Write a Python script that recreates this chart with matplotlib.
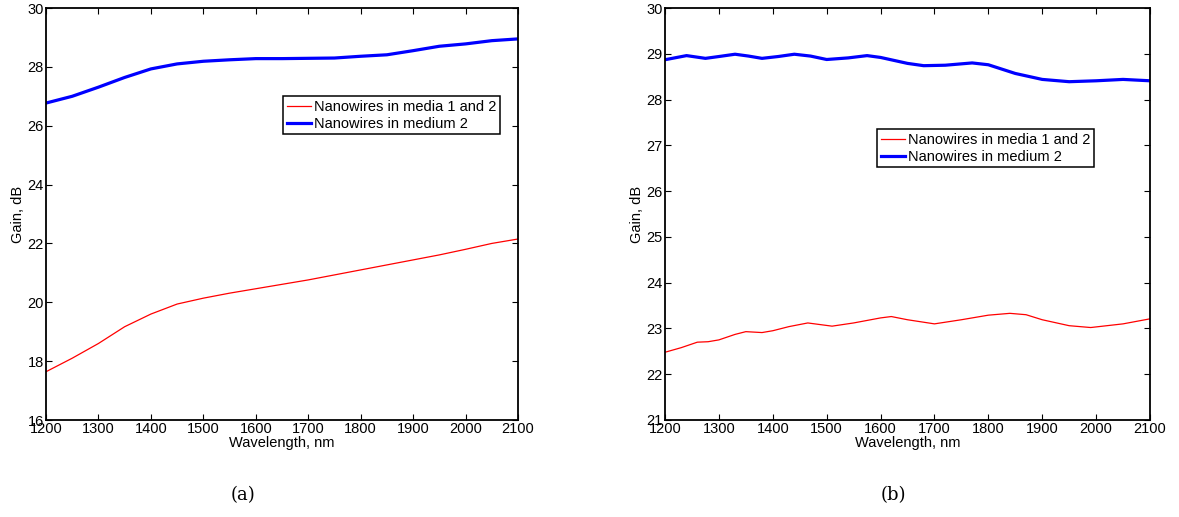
import matplotlib
matplotlib.use("Agg")
import matplotlib.pyplot as plt

# panel (a)
wl_a = [1200, 1250, 1300, 1350, 1400, 1450, 1500, 1550, 1600, 1650, 1700,
        1750, 1800, 1850, 1900, 1950, 2000, 2050, 2100]
both_a = [17.64, 18.10, 18.60, 19.17, 19.60, 19.94, 20.14, 20.31, 20.46, 20.61,
          20.76, 20.93, 21.10, 21.27, 21.44, 21.61, 21.80, 22.00, 22.15]
med2_a = [26.77, 27.00, 27.31, 27.64, 27.93, 28.10, 28.19, 28.24, 28.28, 28.28,
          28.29, 28.30, 28.36, 28.41, 28.55, 28.70, 28.78, 28.89, 28.95]

# panel (b)
wl_b_red = [1200, 1230, 1260, 1280, 1300, 1330, 1350, 1380, 1400, 1430, 1465,
            1510, 1550, 1600, 1620, 1650, 1700, 1750, 1800, 1840, 1870, 1900,
            1950, 1990, 2050, 2100]
both_b = [22.48, 22.58, 22.70, 22.71, 22.75, 22.87, 22.93, 22.91, 22.95, 23.04,
          23.12, 23.05, 23.12, 23.23, 23.26, 23.19, 23.10, 23.19, 23.29, 23.33,
          23.30, 23.19, 23.06, 23.02, 23.10, 23.21]
wl_b_blue = [1200, 1240, 1275, 1300, 1330, 1355, 1380, 1410, 1440, 1470, 1500,
             1540, 1575, 1600, 1650, 1680, 1720, 1770, 1800, 1850, 1900, 1950,
             2000, 2050, 2100]
med2_b = [28.87, 28.96, 28.90, 28.94, 28.99, 28.95, 28.90, 28.94, 28.99, 28.95,
          28.875, 28.91, 28.96, 28.92, 28.79, 28.74, 28.75, 28.80, 28.76, 28.57,
          28.44, 28.39, 28.41, 28.44, 28.41]

xticks = [1200, 1300, 1400, 1500, 1600, 1700, 1800, 1900, 2000, 2100]

plt.rcParams["font.family"] = ["Liberation Sans", "DejaVu Sans"]
plt.rcParams["font.size"] = 10.5

fig = plt.figure(figsize=(11.79, 5.17), dpi=100)
ax1 = fig.add_axes([46 / 1179, 97 / 517, 472 / 1179, 412 / 517])
ax2 = fig.add_axes([665 / 1179, 97 / 517, 485 / 1179, 412 / 517])


def style(ax, ylim, yticks):
    ax.set_xlim(1200, 2100)
    ax.set_ylim(*ylim)
    ax.set_xticks(xticks)
    ax.set_yticks(yticks)
    ax.tick_params(direction="in", top=True, right=True, length=4, width=0.8,
                   labelsize=10.5, pad=1.5)
    for s in ax.spines.values():
        s.set_linewidth(1.3)
    ax.set_xlabel("Wavelength, nm", fontsize=10.5, labelpad=0)
    ax.set_ylabel("Gain, dB", fontsize=10.5, labelpad=2)


def add_legend(ax, anchor):
    leg = ax.legend(loc="upper left", bbox_to_anchor=anchor, fancybox=False,
                    edgecolor="black", framealpha=1, fontsize=10.5,
                    handlelength=1.65, handletextpad=0.2, borderpad=0.25,
                    labelspacing=0.2, borderaxespad=0)
    leg.get_frame().set_linewidth(1.1)


ax1.plot(wl_a, both_a, color="red", lw=0.9, label="Nanowires in media 1 and 2")
ax1.plot(wl_a, med2_a, color="blue", lw=2.3, label="Nanowires in medium 2")
style(ax1, (16, 30), range(16, 31, 2))
add_legend(ax1, (0.502, 0.786))

ax2.plot(wl_b_red, both_b, color="red", lw=0.9, label="Nanowires in media 1 and 2")
ax2.plot(wl_b_blue, med2_b, color="blue", lw=2.3, label="Nanowires in medium 2")
style(ax2, (21, 30), range(21, 31))
add_legend(ax2, (0.437, 0.706))

fig.text(243 / 1179, 1 - 495 / 517, "(a)", ha="center", va="center",
         family=["DejaVu Serif"], fontsize=13)
fig.text(893 / 1179, 1 - 495 / 517, "(b)", ha="center", va="center",
         family=["DejaVu Serif"], fontsize=13)

fig.savefig("out.png", dpi=100)
